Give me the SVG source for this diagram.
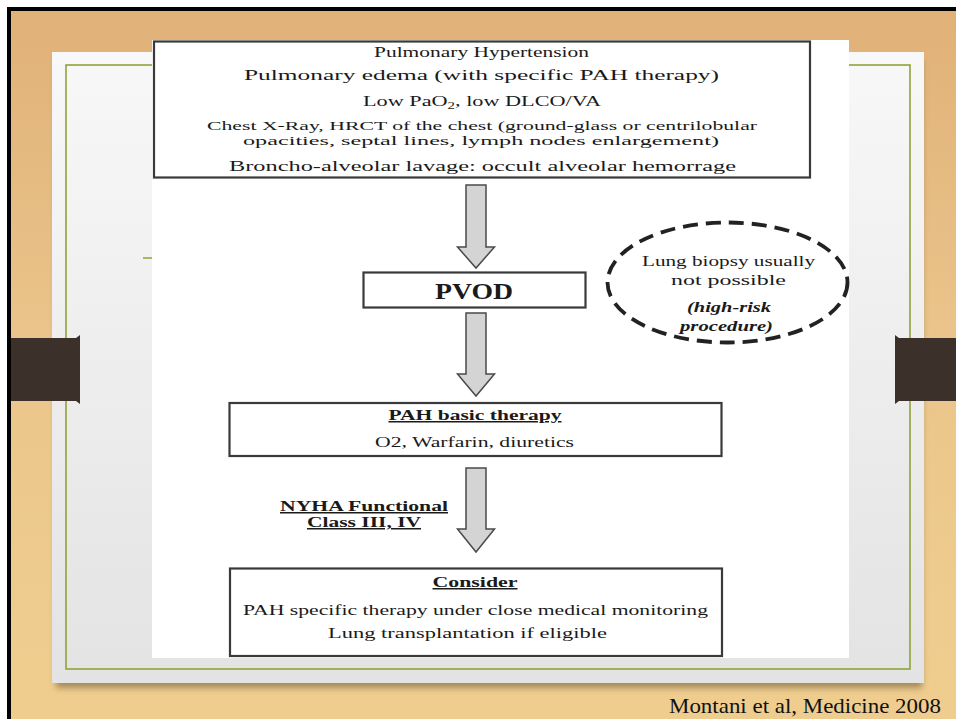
<svg xmlns="http://www.w3.org/2000/svg" width="956" height="719" viewBox="0 0 956 719">
  <defs>
    <linearGradient id="wood" x1="0" y1="0" x2="0" y2="1">
      <stop offset="0" stop-color="#e0b179"/>
      <stop offset="0.5" stop-color="#ebc68c"/>
      <stop offset="1" stop-color="#efcd8f"/>
    </linearGradient>
    <linearGradient id="panel" x1="0" y1="0" x2="0" y2="1">
      <stop offset="0" stop-color="#f8f8f8"/>
      <stop offset="1" stop-color="#e3e3e3"/>
    </linearGradient>
    <filter id="blur" x="-10%" y="-10%" width="120%" height="130%">
      <feGaussianBlur stdDeviation="3"/>
    </filter>
    <style>
      .t { font-family: "Liberation Serif", "Times New Roman", serif; fill: #1a1a1a; text-anchor: middle; }
      .n { font-size: 15px; }
      .s { font-size: 13px; }
      .b { font-weight: bold; }
      .i { font-style: italic; }
      .u { text-decoration: underline; }
      .box { fill: #ffffff; stroke: #3a3a3a; stroke-width: 2.2; }
      .arrow { fill: #d4d4d4; stroke: #4a4a4a; stroke-width: 1.5; stroke-linejoin: miter; }
      .tab { fill: #3b312a; }
    </style>
  </defs>

  <!-- slide background -->
  <rect x="0" y="0" width="956" height="719" fill="#ffffff"/>
  <rect x="9" y="9" width="947" height="710" fill="url(#wood)"/>
  <path d="M9,719 V9 H956" fill="none" stroke="#000" stroke-width="4"/>

  <!-- panel with shadow -->
  <rect x="56" y="60" width="866" height="628" fill="#6a5230" opacity="0.55" filter="url(#blur)"/>
  <rect x="52" y="52" width="872" height="631" fill="url(#panel)"/>
  <rect x="66" y="65" width="844" height="604" fill="none" stroke="#8ea337" stroke-width="1.6"/>
  <line x1="143" y1="258" x2="160" y2="258" stroke="#8ea337" stroke-width="1.5"/>

  <!-- binder tabs -->
  <path class="tab" d="M11,338 H76 L80,335 V404 L76,401 H11 Z"/>
  <path class="tab" d="M956,338 H899 L895,335 V404 L899,401 H956 Z"/>

  <!-- white figure area -->
  <rect x="152" y="40" width="697" height="618" fill="#ffffff"/>

  <!-- connectors -->
  <g id="connectors">
    <path class="arrow" d="M466,185 H486 V247 H494.5 L476,268 L457.5,247 H466 Z"/>
    <path class="arrow" d="M466,313 H486 V374 H494.5 L476,396 L457.5,374 H466 Z"/>
    <path class="arrow" d="M466,468 H486 V529 H494.5 L476,552 L457.5,529 H466 Z"/>
  </g>

  <!-- nodes -->
  <g id="criteria">
    <rect class="box" x="154" y="41.5" width="656" height="136" stroke-width="2.6" stroke="#4a4a4a"/>
    <text class="t n" x="481.5" y="57" textLength="215" lengthAdjust="spacingAndGlyphs">Pulmonary Hypertension</text>
    <text class="t n" x="481.5" y="80" textLength="475" lengthAdjust="spacingAndGlyphs">Pulmonary edema (with specific PAH therapy)</text>
    <text class="t n" x="482" y="106" textLength="238" lengthAdjust="spacingAndGlyphs">Low PaO<tspan font-size="10" dy="3">2</tspan><tspan dy="-3">, low DLCO/VA</tspan></text>
    <text class="t s" x="482" y="130" textLength="550" lengthAdjust="spacingAndGlyphs">Chest X-Ray, HRCT of the chest (ground-glass or centrilobular</text>
    <text class="t s" x="481" y="145" textLength="476" lengthAdjust="spacingAndGlyphs">opacities, septal lines, lymph nodes enlargement)</text>
    <text class="t n" x="482.5" y="171" textLength="507" lengthAdjust="spacingAndGlyphs">Broncho-alveolar lavage: occult alveolar hemorrage</text>
  </g>

  <g id="pvod">
    <rect class="box" x="363.5" y="272.5" width="222" height="35" stroke-width="2.6"/>
    <text class="t b" x="474" y="299" font-size="23" textLength="78" lengthAdjust="spacingAndGlyphs">PVOD</text>
  </g>

  <g id="biopsy-note">
    <ellipse cx="727.5" cy="282.5" rx="120" ry="60" fill="none" stroke="#222" stroke-width="3.8" stroke-dasharray="15 8"/>
    <text class="t n" x="728.5" y="266" textLength="173" lengthAdjust="spacingAndGlyphs">Lung biopsy usually</text>
    <text class="t n" x="728.5" y="285" textLength="115" lengthAdjust="spacingAndGlyphs">not possible</text>
    <text class="t n b i" x="729" y="312" textLength="84" lengthAdjust="spacingAndGlyphs">(high-risk</text>
    <text class="t n b i" x="726.5" y="331" textLength="93" lengthAdjust="spacingAndGlyphs">procedure)</text>
  </g>

  <g id="pah-basic">
    <rect class="box" x="229.5" y="403" width="492" height="53"/>
    <text class="t n b u" x="475" y="420" textLength="173" lengthAdjust="spacingAndGlyphs">PAH basic therapy</text>
    <text class="t n" x="474.5" y="447" textLength="199" lengthAdjust="spacingAndGlyphs">O2, Warfarin, diuretics</text>
  </g>

  <g id="nyha-label">
    <text class="t n b u" x="364" y="511" textLength="168" lengthAdjust="spacingAndGlyphs">NYHA Functional</text>
    <text class="t n b u" x="364" y="527" textLength="114" lengthAdjust="spacingAndGlyphs">Class III, IV</text>
  </g>

  <g id="consider">
    <rect class="box" x="230" y="568.5" width="492" height="87.5"/>
    <text class="t n b u" x="475" y="587" textLength="85" lengthAdjust="spacingAndGlyphs">Consider</text>
    <text class="t n" x="475.5" y="615" textLength="465" lengthAdjust="spacingAndGlyphs">PAH specific therapy under close medical monitoring</text>
    <text class="t n" x="467.5" y="638" textLength="279" lengthAdjust="spacingAndGlyphs">Lung transplantation if eligible</text>
  </g>

  <text x="669" y="713" font-family="Liberation Serif, serif" font-size="21" fill="#111" textLength="272" lengthAdjust="spacingAndGlyphs">Montani et al, Medicine 2008</text>
</svg>
